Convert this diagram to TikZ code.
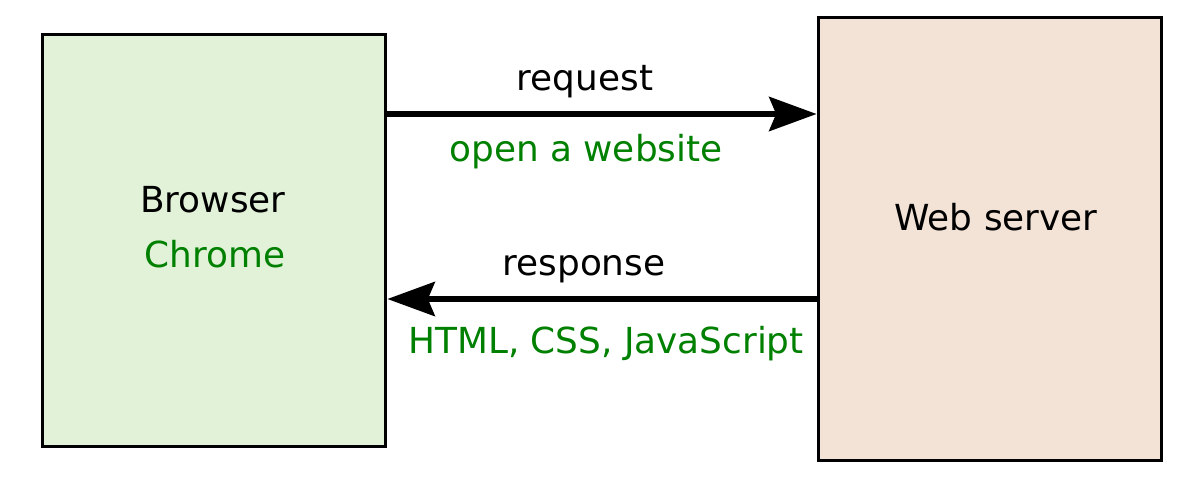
\documentclass[tikz,border=0pt]{standalone}
\usepackage{fontspec}
\setmainfont{DejaVu Sans}
\usetikzlibrary{arrows.meta,positioning}
\definecolor{browserfill}{HTML}{E2F2D8}
\definecolor{serverfill}{HTML}{F3E3D7}
\definecolor{labelgreen}{HTML}{008000}

\begin{document}
\begin{tikzpicture}[x=0.02cm,y=-0.02cm,
	box/.style={draw,line width=1.7pt,minimum width=6.88cm,inner sep=0pt},
	lbl/.style={font=\fontsize{20.4}{24}\selectfont,inner sep=0pt,anchor=center},
	note/.style={lbl,text=labelgreen},
	msg/.style={line width=2.85pt,-{Stealth[length=27pt,width=19.5pt,inset=4pt]}}]
			\useasboundingbox (0,0) rectangle (1194,490);
			\node[box,fill=browserfill,minimum height=8.26cm] (browser) at (214,240.5) {};
			\node[box,fill=serverfill,minimum height=8.88cm] (server) at (990,239) {};

			\node[lbl] (bname) at (213,200) {Browser};
			\node[note] (bkind) at (215,254) {Chrome};
			\node[lbl] (sname) at (996,217) {Web server};

			\coordinate (req) at (600,114);
			\coordinate (resp) at (600,299);
			\node[lbl] (reqlbl) at (585,82) {request};
			\node[note] (reqnote) at (586,152) {open a website};
			\node[lbl] (resplbl) at (584,269) {response};
			\node[note] (respnote) at (606,344) {HTML, CSS, JavaScript};

			\path[msg] (browser.east |- req) edge (server.west |- req)
						 (server.west |- resp) edge (browser.east |- resp);
		\end{tikzpicture}
\end{document}
